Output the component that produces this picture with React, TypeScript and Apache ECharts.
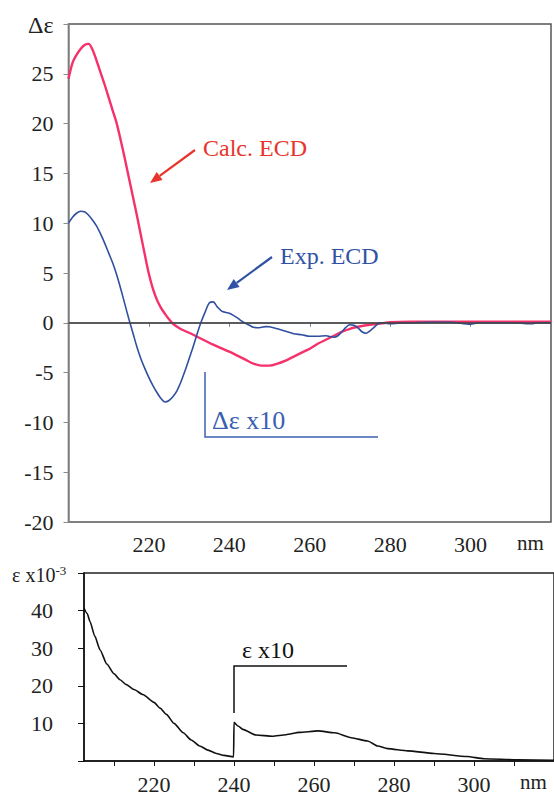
import React, { useEffect, useRef } from "react";
import * as echarts from "echarts";

// ---- Top panel: ECD spectra (Δε vs nm) ----
const calcNm = [200, 201, 202, 203, 204, 205, 206, 207, 208, 209, 210, 211, 212, 213, 214, 215, 216, 217, 218, 219, 220, 221, 222, 223, 224, 225, 226, 227, 228, 230, 232, 234, 236, 238, 240, 242, 244, 246, 248, 250, 252, 254, 256, 258, 260, 262, 264, 266, 268, 270, 272, 274, 276, 278, 280, 285, 290, 300, 310, 320];
const calcVal = [24.5, 26.1, 26.9, 27.5, 27.9, 28.0, 27.4, 26.3, 25.1, 23.9, 22.6, 21.3, 20.0, 18.3, 16.5, 14.6, 12.7, 10.8, 8.8, 6.8, 4.9, 3.4, 2.3, 1.5, 0.9, 0.35, -0.1, -0.4, -0.65, -1.0, -1.4, -1.8, -2.2, -2.55, -2.9, -3.3, -3.7, -4.1, -4.3, -4.3, -4.1, -3.8, -3.4, -3.0, -2.6, -2.1, -1.7, -1.3, -0.9, -0.6, -0.4, -0.25, -0.15, -0.05, 0.05, 0.1, 0.1, 0.1, 0.1, 0.1];

const expNm = [200, 201, 202, 203, 204, 205, 206, 207, 208, 209, 210, 211, 212, 213, 214, 215, 216, 217, 218, 219, 220, 221, 222, 223, 224, 225, 226, 227, 228, 229, 230, 231, 232, 233, 234, 235, 236, 237, 238, 239, 240, 241, 242, 243, 244, 245, 246, 247, 248, 249, 250, 252, 254, 256, 258, 260, 262, 264, 266, 267, 268, 269, 270, 271, 272, 273, 274, 275, 276, 277, 278, 280, 282, 285, 290, 295, 300, 302, 310, 315, 317, 320];
const expVal = [10.0, 10.6, 11.0, 11.2, 11.15, 10.8, 10.3, 9.7, 8.9, 8.0, 7.0, 6.0, 4.8, 3.4, 1.9, 0.4, -1.0, -2.4, -3.6, -4.6, -5.5, -6.3, -7.0, -7.6, -7.95, -7.8, -7.4, -6.8, -5.9, -4.8, -3.6, -2.4, -1.1, 0.1, 1.1, 2.0, 2.1, 1.6, 1.2, 1.05, 0.95, 0.75, 0.5, 0.2, -0.05, -0.25, -0.45, -0.5, -0.45, -0.38, -0.4, -0.6, -0.85, -1.1, -1.2, -1.35, -1.35, -1.3, -1.45, -1.3, -0.9, -0.45, -0.2, -0.25, -0.5, -0.9, -1.05, -0.8, -0.45, -0.1, 0.0, -0.1, -0.05, 0.0, 0.05, 0.05, -0.15, 0.0, 0.0, -0.1, 0.0, 0.0];

// ---- Bottom panel: UV spectrum (ε x10^-3 vs nm) ----
const uvNm = [202.5, 203.3, 204, 205.2, 206.5, 208.2, 210, 211.5, 213.1, 215, 217.2, 220, 221.5, 223.1, 225, 227.3, 229.3, 231.4, 233.5, 235.6, 237.5, 239.9, 240, 241, 242.2, 245.5, 249.6, 253, 256.3, 261, 265.2, 269.3, 273.4, 275.9, 278.4, 283.4, 290, 298.3, 302.5, 311, 320];
const uvVal = [40.7, 39.2, 37.1, 33.2, 29.6, 25.8, 23.2, 21.6, 20.3, 19.0, 17.7, 15.6, 14.1, 12.4, 10.0, 7.5, 5.6, 4.0, 2.9, 2.0, 1.5, 1.1, 10.3, 9.3, 8.4, 6.9, 6.6, 7.0, 7.6, 8.0, 7.5, 6.2, 5.3, 4.0, 3.3, 2.7, 2.0, 1.2, 0.6, 0.3, 0.2];

const uvTickValues = [210, 220, 230, 240, 250, 260, 270, 280, 290, 300, 310];
const uvLabelValues = [220, 240, 260, 280, 300];

const zip = (xs: number[], ys: number[]) => xs.map((x, i) => [x, ys[i]]);

const SERIF = "Liberation Serif";
const RED = "#f5306a";
const BLUE = "#2f4f9f";

export default function App() {
  const ref = useRef<HTMLDivElement>(null);
  useEffect(() => {
    document.body.style.margin = "0";
    const chart = echarts.init(ref.current!, null, { renderer: "svg" });
    const labelStyle = { color: "#222", fontFamily: SERIF, fontSize: 22 };
    const txt = (size: number) => ({ fontFamily: SERIF, fontSize: size });
    chart.setOption({
      animation: false,
      backgroundColor: "#fff",
      textStyle: { fontFamily: SERIF },
      grid: [
        { left: 68.5, top: 24, width: 485, height: 498, show: true, borderColor: "#555", borderWidth: 1.5, backgroundColor: "transparent" },
        { left: 84, top: 573, width: 472, height: 189, show: true, borderColor: "#222", borderWidth: 1.5, backgroundColor: "transparent" },
      ],
      xAxis: [
        {
          gridIndex: 0, type: "value", min: 200, max: 320, interval: 20,
          axisLine: { lineStyle: { color: "#7a7f8c", width: 1.5 } },
          axisTick: { show: true, length: 4, lineStyle: { color: "#7a7f8c" } },
          splitLine: { show: false },
          axisLabel: { ...labelStyle, margin: 11, formatter: (v: number) => (v === 200 || v === 320 ? "" : String(v)) },
        },
        {
          gridIndex: 1, type: "value", min: 202.5, max: 320,
          axisLine: { lineStyle: { color: "#111", width: 1.5 } },
          axisTick: { show: true, length: 5, customValues: uvTickValues, lineStyle: { color: "#111" } },
          splitLine: { show: false },
          axisLabel: { ...labelStyle, margin: 12, customValues: uvLabelValues },
        },
      ],
      yAxis: [
        {
          gridIndex: 0, type: "value", min: -20, max: 30, interval: 5,
          axisLine: { show: true, lineStyle: { color: "#8a8a8a", width: 1.5 } },
          axisTick: { show: true, length: 5, lineStyle: { color: "#8a8a8a" } },
          splitLine: { show: false },
          axisLabel: { ...labelStyle, margin: 15, formatter: (v: number) => (v === 30 ? "" : String(v)) },
        },
        {
          gridIndex: 1, type: "value", min: 0, max: 50, interval: 10,
          axisLine: { show: true, lineStyle: { color: "#111", width: 1.5 } },
          axisTick: { show: true, length: 6, lineStyle: { color: "#111" } },
          splitLine: { show: false },
          axisLabel: { ...labelStyle, margin: 31, formatter: (v: number) => (v === 0 || v === 50 ? "" : String(v)) },
        },
      ],
      series: [
        {
          name: "Calc. ECD", type: "line", xAxisIndex: 0, yAxisIndex: 0,
          data: zip(calcNm, calcVal), showSymbol: false, smooth: 0.3,
          lineStyle: { color: RED, width: 2.4 },
          markLine: {
            silent: true, symbol: "none", label: { show: false },
            lineStyle: { color: "#444", width: 1.5, type: "solid" },
            data: [{ yAxis: 0 }],
          },
          z: 3,
        },
        {
          name: "Exp. ECD", type: "line", xAxisIndex: 0, yAxisIndex: 0,
          data: zip(expNm, expVal), showSymbol: false, smooth: 0.3,
          lineStyle: { color: BLUE, width: 1.6 },
          z: 4,
        },
        {
          name: "UV", type: "line", xAxisIndex: 1, yAxisIndex: 1,
          data: zip(uvNm, uvVal), showSymbol: false, smooth: 0.2, smoothMonotone: "x",
          lineStyle: { color: "#111", width: 1.6 },
        },
      ],
      graphic: [
        { type: "text", x: 28, y: 25, style: { text: "Δε", fill: "#222", ...txt(24), verticalAlign: "middle" } },
        { type: "text", x: 517, y: 543, style: { text: "nm", fill: "#222", ...txt(21), verticalAlign: "middle" } },
        { type: "text", x: 520, y: 782, style: { text: "nm", fill: "#222", ...txt(21), verticalAlign: "middle" } },
        {
          type: "text", x: 12, y: 575,
          style: {
            text: "{a|ε x10}{b|-3}", verticalAlign: "middle",
            rich: {
              a: { fontFamily: SERIF, fontSize: 20, fill: "#222" },
              b: { fontFamily: SERIF, fontSize: 13, fill: "#222", verticalAlign: "top", padding: [0, 0, 10, 0] },
            },
          },
        },
        // Calc. ECD annotation
        { type: "text", x: 203, y: 148, style: { text: "Calc. ECD", fill: "#e8342c", ...txt(24), verticalAlign: "middle" } },
        { type: "line", shape: { x1: 195, y1: 150, x2: 159.7, y2: 175.9 }, style: { stroke: "#e8342c", lineWidth: 2.2 } },
        { type: "polygon", shape: { points: [[150, 183], [162.6, 179.9], [156.7, 171.9]] }, style: { fill: "#e8342c" } },
        // Exp. ECD annotation
        { type: "text", x: 280, y: 256, style: { text: "Exp. ECD", fill: "#2f52a5", ...txt(24), verticalAlign: "middle" } },
        { type: "line", shape: { x1: 272, y1: 257, x2: 236.7, y2: 282.9 }, style: { stroke: "#2f52a5", lineWidth: 2.2 } },
        { type: "polygon", shape: { points: [[227, 290], [239.6, 286.9], [233.7, 278.9]] }, style: { fill: "#2f52a5" } },
        // Δε x10 bracket
        { type: "polyline", shape: { points: [[205, 372], [205, 437], [378, 437]] }, style: { stroke: "#3b62b3", lineWidth: 1.5, fill: "none" } },
        { type: "text", x: 212, y: 420, style: { text: "Δε x10", fill: "#3a5fb0", ...txt(26), verticalAlign: "middle" } },
        // ε x10 bracket
        { type: "polyline", shape: { points: [[234, 713], [234, 666], [347, 666]] }, style: { stroke: "#111", lineWidth: 1.5, fill: "none" } },
        { type: "text", x: 242, y: 650, style: { text: "ε x10", fill: "#111", ...txt(24), verticalAlign: "middle" } },
      ],
    });
    return () => chart.dispose();
  }, []);
  return <div ref={ref} style={{ width: 554, height: 795 }} />;
}
